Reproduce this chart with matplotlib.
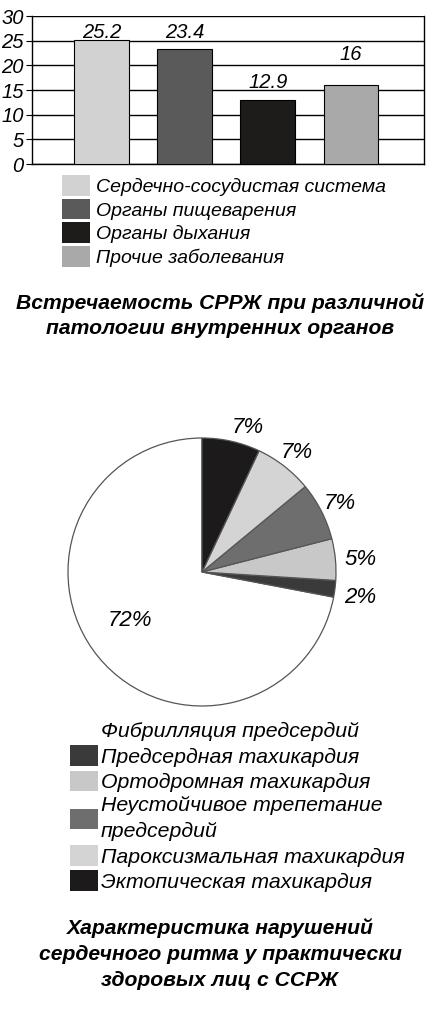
# Встречаемость СРРЖ + характеристика нарушений ритма: bar + pie, one column
import matplotlib
matplotlib.use("Agg")
import matplotlib.pyplot as plt
from matplotlib.patches import Patch

plt.rcParams["font.family"] = ["Liberation Sans", "DejaVu Sans"]

# data ---------------------------------------------------------------
bar_cats = ["Сердечно-сосудистая система", "Органы пищеварения",
            "Органы дыхания", "Прочие заболевания"]
bar_vals = [25.2, 23.4, 12.9, 16]
bar_labels = ["25.2", "23.4", "12.9", "16"]
bar_ticks = [0, 5, 10, 15, 20, 25, 30]

pie_cats = ["Фибрилляция предсердий", "Предсердная тахикардия",
            "Ортодромная тахикардия",
            "Неустойчивое трепетание\nпредсердий",
            "Пароксизмальная тахикардия", "Эктопическая тахикардия"]
pie_vals = [72, 2, 5, 7, 7, 7]

# styles -------------------------------------------------------------
bar_colors = ["#d2d2d2", "#5a5a5a", "#1e1b1b", "#a9a9a9"]
label_lift = [1.55, 3.35, 3.7, 6.1]   # label centre offsets above bars
pie_colors = ["#ffffff", "#3a3a3a", "#c8c8c8", "#6e6e6e", "#d4d4d4", "#1c1a1a"]

fig = plt.figure(figsize=(4.34, 10.11), dpi=100)

# bar chart ----------------------------------------------------------
ax = fig.add_axes([32 / 434, 1 - 164 / 1011, 392 / 434, 148 / 1011])
x = range(len(bar_vals))
ax.bar(x, bar_vals, width=0.66, color=bar_colors, edgecolor="black",
       linewidth=0.8, zorder=3)
for xi, v, lab, d in zip(x, bar_vals, bar_labels, label_lift):
    ax.text(xi, v + d, lab, ha="center", va="center", fontsize=14.5,
            style="italic")
ax.set_xlim(-0.84, 3.88)
ax.set_ylim(0, 30)
ax.set_yticks(bar_ticks)
ax.set_yticklabels([str(t) for t in bar_ticks], fontsize=14.5,
                   style="italic")
ax.set_xticks([])
ax.yaxis.grid(True, color="black", lw=1.0, zorder=0)
ax.spines["top"].set_visible(False)
for s in ["left", "bottom", "right"]:
    ax.spines[s].set_linewidth(1.0)
ax.tick_params(axis="y", length=4, pad=2)

handles = [Patch(facecolor=c, edgecolor="none") for c in bar_colors]
fig.legend(handles, bar_cats, loc="upper left",
           bbox_to_anchor=(62 / 434, 1 - 175 / 1011), frameon=False,
           prop={"size": 14, "style": "italic"}, handlelength=1.45,
           handleheight=1.25, handletextpad=0.3, labelspacing=0.15,
           borderpad=0, borderaxespad=0)

fig.text(0.506, 1 - 303 / 1011, "Встречаемость СРРЖ при различной",
         ha="center", va="center", fontsize=15.2, weight="bold",
         style="italic")
fig.text(0.506, 1 - 328 / 1011, "патологии внутренних органов",
         ha="center", va="center", fontsize=15.2, weight="bold",
         style="italic")

# pie chart ----------------------------------------------------------
ax2 = fig.add_axes([(202 - 134) / 434, 1 - (572 + 134) / 1011,
                    268 / 434, 268 / 1011])
wedges, _ = ax2.pie(pie_vals, colors=pie_colors, startangle=90,
                    counterclock=True,
                    wedgeprops={"edgecolor": "#555555", "linewidth": 0.9})
ax2.set_xlim(-1, 1)
ax2.set_ylim(-1, 1)
ax2.set_aspect("equal")

pie_txt = [f"{v}%" for v in pie_vals]
pie_pos = [(-0.54, -0.36), (1.18, -0.19), (1.18, 0.09), (1.03, 0.51),
           (0.71, 0.89), (0.34, 1.08)]
for t, (px, py) in zip(pie_txt, pie_pos):
    ax2.text(px, py, t, ha="center", va="center", fontsize=16,
             style="italic")

handles2 = [Patch(facecolor=c, edgecolor="none") for c in pie_colors]
leg2 = fig.legend(handles2, pie_cats, loc="upper left",
                  bbox_to_anchor=(70 / 434, 1 - 720 / 1011), frameon=False,
                  prop={"size": 15.3, "style": "italic"}, handlelength=1.3,
                  handleheight=1.1, handletextpad=0.15, labelspacing=0.18,
                  borderpad=0, borderaxespad=0)
for t in leg2.get_texts():
    t.set_linespacing(1.5)

for yy, s in [(928, "Характеристика нарушений"),
              (955, "сердечного ритма у практически"),
              (981, "здоровых лиц с ССРЖ")]:
    fig.text(0.507, 1 - yy / 1011, s, ha="center", va="center",
             fontsize=15.2, weight="bold", style="italic")

fig.savefig("out.png", dpi=100, facecolor="white")
